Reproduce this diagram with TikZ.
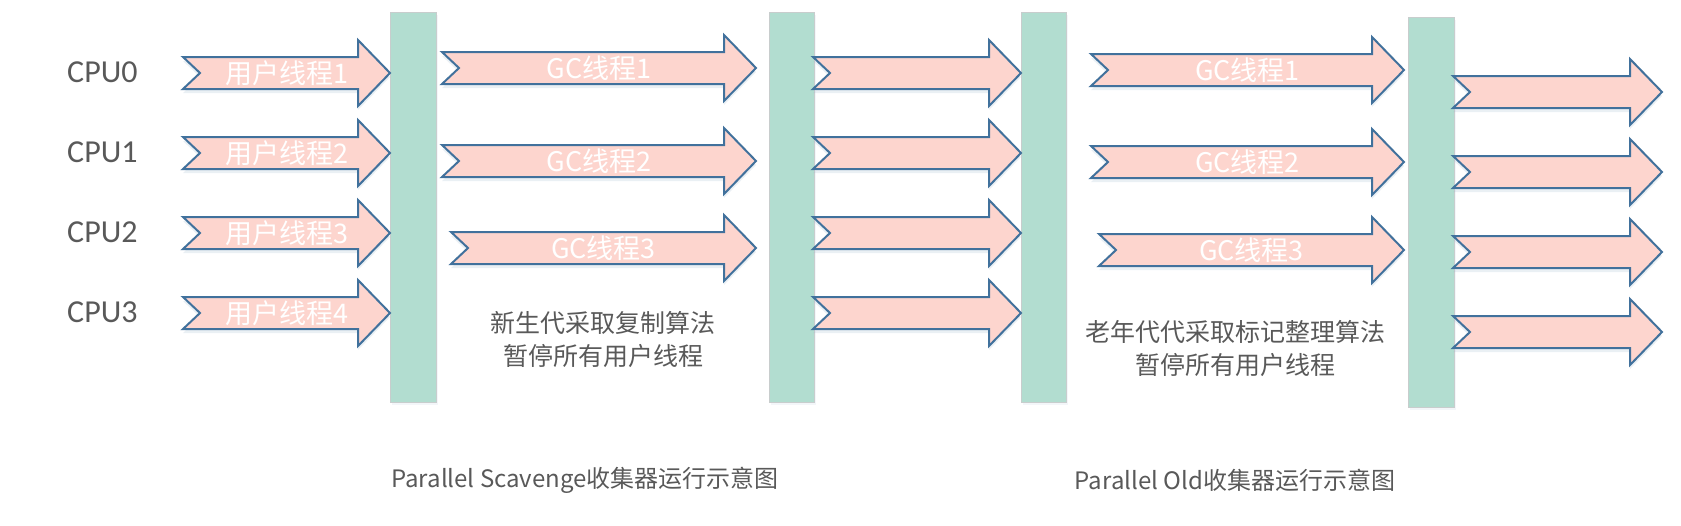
\documentclass[tikz,border=0pt]{standalone}
\usepackage{fontspec}
\setmainfont{Carlito}
\newfontfamily\cjk{Noto Sans CJK SC}
\usetikzlibrary{shadows}

\definecolor{arrowfill}{RGB}{253,213,206}
\definecolor{arrowline}{RGB}{65,113,156}
\definecolor{barfill}{RGB}{178,221,208}
\definecolor{barline}{RGB}{200,205,205}
\definecolor{textgray}{RGB}{89,89,89}

\tikzset{
  fatarrow/.style={draw=arrowline,fill=arrowfill,line width=2pt,line join=miter,
    drop shadow={shadow xshift=0pt,shadow yshift=-4pt,opacity=0.18,fill=arrowline!60}},
  bar/.style={draw=barline,fill=barfill,line width=1pt,
    drop shadow={shadow xshift=2pt,shadow yshift=-3pt,opacity=0.12,fill=arrowline!50}},
  thread/.style={font=\cjk\fontsize{27}{30}\selectfont,text=white,inner sep=0pt},
  cpu/.style={font=\fontsize{32}{36}\selectfont,text=textgray,anchor=west,inner sep=0pt},
  note/.style={font=\cjk\fontsize{25}{33}\selectfont,text=textgray,align=center,inner sep=0pt},
  caption/.style={font=\cjk\fontsize{24}{28}\selectfont,text=textgray,inner sep=0pt}
}

% tail x, tip x, centre y, name of the centre
\newcommand\fatarrow[4]{%
  \draw[fatarrow] (#1,#3-16) -- (#2-32,#3-16) -- (#2-32,#3-33) -- (#2,#3)
    -- (#2-32,#3+33) -- (#2-32,#3+16) -- (#1,#3+16) -- (#1+17,#3) -- cycle;
  \coordinate (#4) at ({(#1+#2)/2},#3);
}

\begin{document}
\begin{tikzpicture}[x=1pt,y=-1pt]
  \useasboundingbox (0,0) rectangle (1681,525);
  % barriers
  \draw[bar] (390,12) rectangle (436,402);
  \draw[bar] (769,12) rectangle (814,402);
  \draw[bar] (1021,12) rectangle (1066,402);
  \draw[bar] (1408,17) rectangle (1454,407);
  % user threads
  \foreach \y/\n in {72/0,152/1,232/2,312/3} {
    \node[cpu] (cpu\n) at (67,\y) {CPU\n};
  }
  \foreach \y/\n in {73/1,153/2,233/3,313/4} {
    \fatarrow{183}{390}{\y}{user\n}
    \node[thread] (ulabel\n) at (user\n) {用户线程\n};
  }
  % young generation gc
  \foreach \x/\y/\n in {442/68/1,442/161/2,451/248/3} {
    \fatarrow{\x}{756}{\y}{ygc\n}
    \node[thread] (yglabel\n) at (ygc\n) {GC线程\n};
  }
  \node[note] (young) at (603,340) {新生代采取复制算法\\暂停所有用户线程};
  \foreach \y/\n in {73/1,153/2,233/3,313/4} {
    \fatarrow{813}{1021}{\y}{mid\n}
  }
  % old generation gc
  \foreach \x/\y/\n in {1091/70/1,1091/162/2,1099/250/3} {
    \fatarrow{\x}{1404}{\y}{ogc\n}
    \node[thread] (oglabel\n) at (ogc\n) {GC线程\n};
  }
  \node[note] (old) at (1235,349) {老年代代采取标记整理算法\\暂停所有用户线程};
  \foreach \y/\n in {92/1,172/2,252/3,332/4} {
    \fatarrow{1453}{1662}{\y}{out\n}
  }
  % captions
  \node[caption] (capyoung) at (585,480) {Parallel Scavenge收集器运行示意图};
  \node[caption] (capold) at (1235,480) {Parallel Old收集器运行示意图};
\end{tikzpicture}
\end{document}
